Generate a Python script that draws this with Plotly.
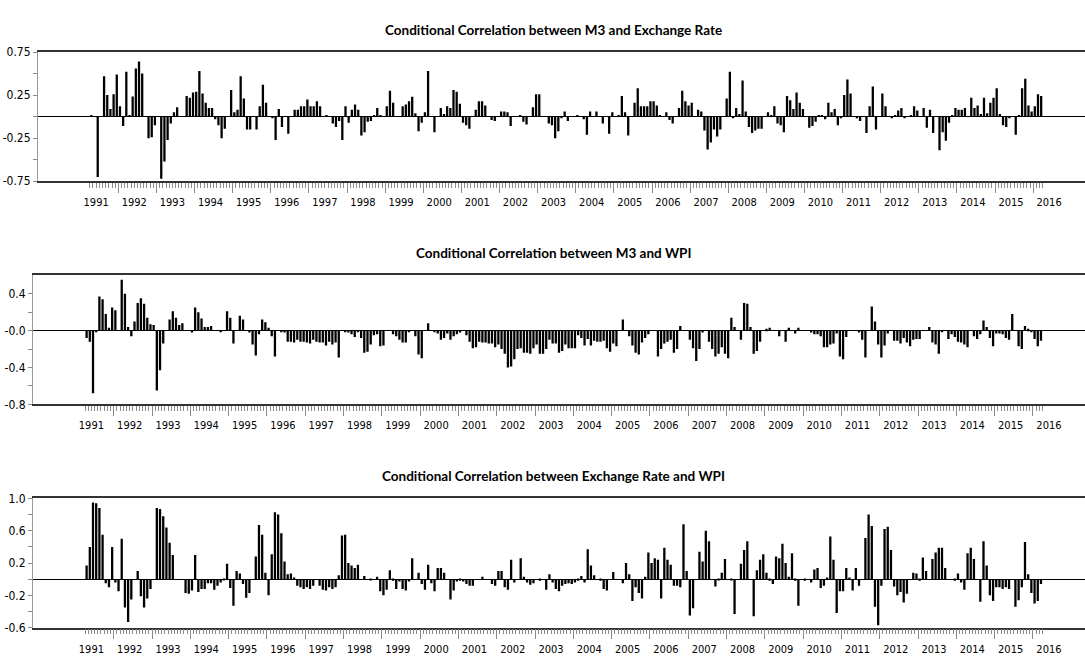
import numpy as np
import plotly.graph_objects as go

# ---------------- data (monthly, 1991M04 - 2016M03) ----------------
start_year = 1991
start_month = 4
n_obs = 300

m3_er = [
    0.02, 0, -0.70, 0, 0.47, 0.25, 0.09, 0.26, 0.49, 0.12, -0.11, 0.52,
    0.02, 0.235, 0.56, 0.64, 0.5, 0, -0.25, -0.24, -0.1, 0, -0.72, -0.52,
    -0.27, -0.08, 0.05, 0.11, 0, 0, 0.24, 0.22, 0.28, 0.29, 0.53, 0.27,
    0.16, 0.1, 0.1, -0.03, -0.1, -0.25, -0.14, 0, 0.31, 0.05, 0.08, 0.47,
    0.21, -0.15, -0.15, 0, -0.15, 0.12, 0.37, 0.16, 0, -0.02, -0.27, 0.09,
    -0.12, 0, -0.2, 0,
    0.08, 0.08, 0.12, 0.12, 0.2, 0.12, 0.12, 0.18, 0.12, 0, 0.01, 0,
    -0.08, -0.12, -0.05, -0.27, 0.12, -0.07, 0.08, 0.14, 0.08, -0.22, -0.18, -0.06,
    -0.05, 0.02, 0.1, 0.01, 0, 0.12, 0.3, 0.16, 0, 0, 0.12, 0.14,
    0.18, 0.23, 0.04, -0.17, -0.07, 0.05, 0.53, 0, -0.18, 0, 0.1, 0.03,
    0.12, 0.1, 0.31, 0.29, 0.15, -0.07, -0.1, -0.14, 0, 0.08, 0.18, 0.18,
    0.13, 0, -0.04, -0.05, 0, 0.06, 0.06, 0.05, -0.11, 0, 0, 0.02,
    -0.06, -0.09, 0, 0.11, 0.26, 0.26, 0, 0,
    -0.08, -0.1, -0.25, -0.17, -0.02, 0.06, -0.05, 0, 0, 0.02, 0, -0.03,
    -0.21, 0.06, 0, 0.06, 0, -0.08, 0, -0.2, 0.05, 0, 0.02, 0.24,
    0.05, -0.22, 0, 0.16, 0.33, 0.12, 0.12, 0.12, 0.18, 0.18, 0.13, 0.02,
    0, 0.05, -0.04, -0.08, 0, 0.1, 0.3, 0.18, 0.13, 0.16, 0, 0.08,
    0.06, -0.16, -0.38, -0.3, -0.15, -0.23, -0.15, 0, 0.21, 0.52, -0.02, 0.1,
    0.03, 0.42, 0.06, -0.12, -0.19, -0.16, -0.14, -0.14, 0, 0.05, 0.02, 0.12,
    -0.08, -0.1, -0.18, 0.24, 0.19, 0.09, 0.28, 0.16, 0.09, 0,
    -0.13, -0.11, -0.06, 0.02, 0.02, -0.03, 0.16, 0.05, 0.09, -0.1, -0.02, 0.25,
    0.43, 0.27, 0, -0.02, -0.05, 0, -0.19, 0.12, 0.35, -0.15, 0, 0.27,
    0.12, 0, -0.02, 0.02, 0.07, 0.1, -0.02, 0, 0.02, 0.12, 0.07, 0,
    0.1, -0.13, 0.08, -0.19, 0, -0.39, -0.18, -0.28, -0.07, 0.02, 0.1, 0.08,
    0.08, 0.1, 0, 0.22, 0.1, 0.13, 0.03, 0.22, 0.04, 0.16, 0.22, 0.33,
    0.03, -0.1, -0.12, -0.02, 0, -0.21, 0.02, 0.33, 0.44, 0.13, 0.06, 0.12,
    0.26, 0.24,
]

m3_wpi = [
    -0.08, -0.12, -0.68, -0.01, 0.37, 0.34, 0.18, 0.03, 0.25, 0.22, 0, 0.55,
    0.4, 0.04, -0.06, 0.1, 0.3, 0.35, 0.29, 0.14, 0.07, 0.06, -0.65, -0.43,
    -0.14, 0, 0.12, 0.21, 0.14, 0.06, 0.08, 0, 0, -0.02, 0.25, 0.2,
    0.13, 0.04, 0.04, 0.05, 0, 0, -0.01, 0, 0.21, 0.14, -0.14, 0,
    0.16, 0.12, 0, -0.02, -0.15, -0.27, -0.04, 0.12, 0.09, 0.03, -0.06, -0.28,
    0, -0.01, -0.02,
    -0.12, -0.12, -0.13, -0.1, -0.12, -0.12, -0.13, -0.14, -0.1, -0.12, -0.13, -0.13,
    -0.16, -0.12, -0.15, -0.13, -0.29, 0, -0.01, -0.02, -0.04, -0.07, -0.01, -0.08,
    -0.24, -0.23, -0.15, -0.05, -0.04, -0.17, -0.16, 0, 0, -0.04, -0.06, -0.1,
    -0.13, -0.13, -0.01, 0, -0.06, -0.26, -0.3, 0, 0.08, 0, -0.01, -0.03,
    -0.1, -0.08, -0.03, -0.1, -0.06, -0.04, -0.02, 0, -0.05, -0.12, -0.19, -0.18,
    -0.12, -0.13, -0.13, -0.14, -0.14, -0.18, -0.15, -0.2, -0.25, -0.4, -0.39, -0.31,
    -0.2, -0.19, -0.24, -0.24, -0.25, -0.19, -0.15, -0.25, -0.25, -0.2,
    -0.1, -0.14, -0.14, -0.24, -0.22, -0.15, -0.19, -0.19, -0.19, -0.05, -0.08, -0.16,
    -0.09, -0.16, -0.11, -0.12, -0.12, -0.11, -0.19, -0.23, -0.14, -0.17, 0, 0.12,
    0, -0.06, -0.16, -0.24, -0.26, -0.13, -0.08, -0.04, 0, 0, -0.28, -0.2,
    -0.14, -0.12, -0.1, -0.24, -0.2, 0.05, 0, 0, -0.1, -0.19, -0.33, -0.2,
    -0.02, 0, -0.12, -0.2, -0.28, -0.25, -0.18, -0.25, -0.3, 0.14, 0.04, 0,
    -0.1, 0.3, 0.29, 0.04, -0.25, -0.22, -0.12, 0, 0.02, 0.03, 0, 0,
    -0.06, 0, -0.12, 0.03, 0, -0.03, 0.03, 0, 0, 0, -0.02, -0.04,
    -0.04, -0.06, -0.18, -0.18, -0.15, -0.14, -0.03, -0.28, -0.31, -0.07, 0, 0,
    0, -0.02, -0.1, -0.29, 0, 0.26, 0.1, -0.15, -0.29, -0.16, -0.03, 0,
    -0.11, -0.11, -0.14, -0.08, -0.13, -0.17, -0.1, -0.09, -0.09, 0, 0, 0.04,
    -0.13, -0.15, -0.25, -0.01, 0, -0.09, -0.04, -0.07, -0.12, -0.13, -0.15, -0.18,
    0, -0.06, -0.09, -0.04, 0.11, 0.04, -0.08, -0.17, -0.03, -0.03, -0.04, -0.08,
    -0.1, 0.18, 0, -0.17, -0.2, 0.05, 0.02, -0.01, -0.09, -0.17, -0.11,
]

er_wpi = [
    0.17, 0.4, 0.95, 0.94, 0.88, 0.55, -0.05, -0.1, 0.4, -0.04, -0.15, 0.5,
    -0.35, -0.53, -0.25, 0, 0.1, -0.21, -0.35, -0.24, -0.12, 0, 0.88, 0.87,
    0.78, 0.64, 0.45, 0.3, 0, 0, 0, -0.17, -0.18, -0.14, 0.3, -0.16,
    -0.12, -0.12, -0.05, -0.05, -0.13, -0.08, -0.04, -0.01, 0.19, -0.11, -0.33, 0.1,
    0.07, -0.06, -0.23, -0.17, 0, 0.28, 0.67, 0.55, 0.08, -0.2, 0.31, 0.83,
    0.8,
    0.57, 0.22, 0.06, 0.07, 0.02, -0.08, -0.1, -0.12, -0.1, -0.12, -0.08, 0,
    -0.08, -0.13, -0.14, -0.1, -0.12, -0.1, 0.05, 0.54, 0.55, 0.2, 0.17, 0.14,
    0.18, 0, 0.04, 0, -0.01, 0, 0.03, -0.15, -0.2, -0.13, 0.11, -0.02,
    -0.12, -0.03, -0.12, -0.14, -0.03, 0.26, 0, 0.08, -0.06, -0.13, 0.18, -0.05,
    -0.15, 0.14, 0.14, 0.08, 0, -0.25, -0.14, -0.03, -0.02, -0.03, -0.06, -0.08,
    -0.08, 0, 0, 0.03, 0, 0, -0.06, -0.08, 0.1, 0.1, -0.1, -0.13,
    0.24, -0.04, 0, 0.26, 0.03, -0.04, -0.07, -0.05, 0, -0.02, 0, -0.13,
    0.06,
    -0.04, -0.12, -0.15, -0.08, -0.06, -0.05, -0.06, -0.04, -0.02, 0.04, -0.04, 0.37,
    0.17, 0.05, 0, -0.02, -0.12, -0.14, 0, 0.09, 0, 0, -0.05, 0.2,
    0.06, -0.27, -0.1, -0.17, -0.24, 0.03, 0.33, 0.2, 0.26, 0.24, -0.24, 0.39,
    0.24, 0.18, -0.08, -0.08, -0.1, 0.68, 0.1, -0.45, -0.36, 0, 0.34, 0.22,
    0.6, 0.47, 0, -0.09, -0.01, 0.08, 0.25, 0, -0.01, -0.43, 0, 0.19,
    0.36, 0.47, 0, -0.46, 0.11, 0.24, 0.31, 0.08, -0.02, -0.06, 0.28, 0.26,
    0.44, 0.2, 0.03, 0.32, -0.02, -0.33, 0, -0.02, 0,
    -0.04, 0.12, 0.14, -0.11, -0.08, 0.02, 0.53, 0.24, -0.42, -0.15, -0.15, 0.14,
    0.02, -0.14, 0.14, -0.08, 0, 0.51, 0.8, 0.66, -0.34, -0.57, -0.08, 0.62,
    0.65, 0.36, -0.09, -0.2, -0.16, -0.29, -0.18, 0, 0.08, 0.07, -0.02, 0.27,
    0.1, 0, 0.25, 0.33, 0.39, 0.39, 0.14, 0, 0, -0.02, 0.07, -0.04,
    -0.13, 0.32, 0.39, 0.25, 0, -0.28, 0.47, 0.17, -0.2, -0.27, -0.1, -0.1,
    -0.12, -0.1, -0.12, 0, -0.34, -0.26, -0.1, 0.46, 0.06, -0.17, -0.3, -0.27,
    -0.06,
]

titles = [
    "Conditional Correlation between M3 and Exchange Rate",
    "Conditional Correlation between M3 and WPI",
    "Conditional Correlation between Exchange Rate and WPI",
]
y_ranges = [[-0.75, 0.75], [-0.8, 0.6], [-0.6, 1.0]]
y_tickvals = [
    [-0.75, -0.5, -0.25, 0.0, 0.25, 0.5, 0.75],
    [-0.8, -0.6, -0.4, -0.2, 0.0, 0.2, 0.4],
    [-0.6, -0.4, -0.2, 0.0, 0.2, 0.4, 0.6, 0.8, 1.0],
]
y_ticktext = [
    ["-0.75", "", "-0.25", "", "0.25", "", "0.75"],
    ["-0.8", "", "-0.4", "", "-0.0", "", "0.4"],
    ["-0.6", "", "-0.2", "", "0.2", "", "0.6", "", "1.0"],
]
years = list(range(1991, 2017))

# ---------------- geometry ----------------
W, H = 1085, 665
TICK_FONT = "DejaVu Sans Condensed, DejaVu Sans, sans-serif"
TITLE_FONT = "Lato, DejaVu Sans Condensed, sans-serif"

# months since Jan 1991 (bar centres in the middle of each month)
t = np.arange(n_obs) + (start_month - 1) + 0.5
month_edges = np.arange(start_month - 1, start_month - 1 + n_obs + 1)
year_starts = [12 * (y - start_year) for y in years[1:]]
label_pos = [12 * (y - start_year) + 5 for y in years]
x_range = [-13.3, 316.3]

# pixel layout of panels: (top, bottom, left)
panel_px = [(46, 178, 38), (274, 406, 33), (502, 634, 33)]
title_y_px = [24, 251, 479]

series = [m3_er, m3_wpi, er_wpi]

fig = go.Figure()
layout = {}
for i in range(3):
    n = i + 1
    xa = "x" if n == 1 else f"x{n}"
    ya = "y" if n == 1 else f"y{n}"
    xo = f"x{n + 3}"
    top, bot, left = panel_px[i]
    dom_y = [(H - bot) / H, (H - top) / H]
    dom_x = [left / W, 1.0]

    fig.add_trace(go.Bar(
        x=t, y=series[i], xaxis=xa, yaxis=ya,
        marker=dict(color="#000000", line=dict(width=0)),
        showlegend=False, hoverinfo="skip",
    ))
    # dummy trace to make the label axis exist
    fig.add_trace(go.Scatter(
        x=[label_pos[0]], y=[None], xaxis=xo, yaxis=ya,
        mode="markers", showlegend=False, hoverinfo="skip",
    ))

    layout[f"xaxis{'' if n == 1 else n}"] = dict(
        domain=dom_x, range=x_range, anchor=ya,
        showline=True, mirror=True, linecolor="#333333", linewidth=1.6,
        showgrid=False, zeroline=False,
        tickmode="array", tickvals=year_starts, ticks="outside",
        ticklen=10, tickwidth=1, tickcolor="#8a8a8a",
        showticklabels=False,
        minor=dict(tickmode="array", tickvals=list(month_edges),
                   ticks="outside", ticklen=5, tickwidth=1,
                   tickcolor="#8a8a8a", showgrid=False),
    )
    layout[f"xaxis{n + 3}"] = dict(
        overlaying=xa, anchor=ya, range=x_range, side="bottom",
        showline=False, showgrid=False, zeroline=False,
        tickmode="array", tickvals=label_pos, ticktext=[str(y) for y in years],
        ticks="", ticklabelstandoff=13,
        tickfont=dict(family=TICK_FONT, size=11, color="#000000"),
    )
    layout[f"yaxis{'' if n == 1 else n}"] = dict(
        domain=dom_y, range=y_ranges[i], anchor=xa,
        showline=True, linecolor="#9a9a9a", linewidth=1,
        showgrid=False, zeroline=True, zerolinecolor="#000000", zerolinewidth=1.2,
        tickmode="array", tickvals=y_tickvals[i], ticktext=y_ticktext[i],
        ticks="outside", ticklen=4, tickwidth=1, tickcolor="#8a8a8a",
        tickfont=dict(family=TICK_FONT, size=12, color="#000000"),
    )

annotations = []
for i in range(3):
    annotations.append(dict(
        text=f"<b>{titles[i]}</b>", xref="paper", yref="paper",
        x=553 / W, y=(H - title_y_px[i]) / H, xanchor="center", yanchor="middle",
        showarrow=False,
        font=dict(family=TITLE_FONT, size=13.5, color="#000000"),
    ))

fig.update_layout(
    width=W, height=H, margin=dict(l=0, r=0, t=0, b=0),
    paper_bgcolor="white", plot_bgcolor="white",
    bargap=0.28, annotations=annotations, showlegend=False,
    **layout,
)

fig.write_html("out.html", config={"displayModeBar": False})
